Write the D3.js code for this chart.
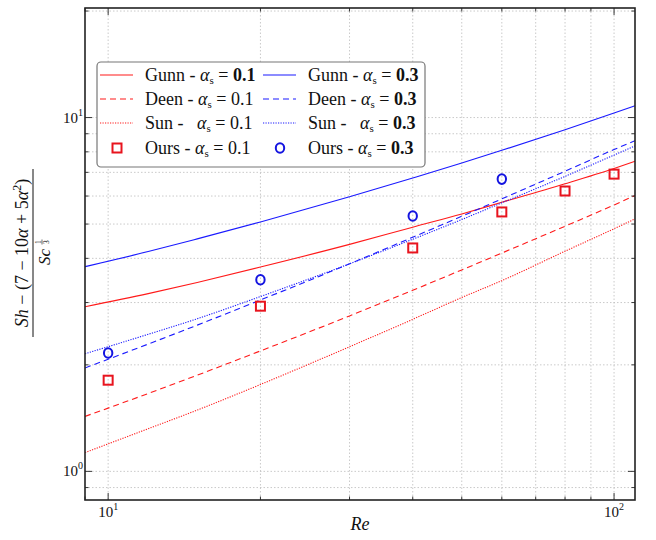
<!DOCTYPE html>
<html>
<head>
<meta charset="utf-8">
<script src="https://cdn.jsdelivr.net/npm/d3@7"></script>
<style>
  html, body { margin: 0; padding: 0; background: #fff; }
  svg { display: block; }
  text { font-family: "Liberation Serif", "DejaVu Serif", serif; fill: #111; }
</style>
</head>
<body>
<svg id="chart" width="656" height="540"></svg>
<script>
// ---------------- data ----------------
const reGrid = [9, 12, 15, 20, 30, 40, 50, 60, 80, 100, 110];
const gunn01 = [2.92, 3.18, 3.42, 3.78, 4.38, 4.90, 5.34, 5.76, 6.50, 7.18, 7.52];
const gunn03 = [3.79, 4.18, 4.54, 5.07, 5.97, 6.75, 7.44, 8.08, 9.24, 10.3, 10.8];
const deen01 = [1.43, 1.66, 1.87, 2.19, 2.75, 3.25, 3.71, 4.14, 4.93, 5.66, 6.02];
const deen03 = [1.96, 2.29, 2.59, 3.05, 3.86, 4.59, 5.26, 5.89, 7.05, 8.12, 8.60];
const sun01  = [1.13, 1.32, 1.49, 1.76, 2.25, 2.69, 3.10, 3.46, 4.19, 4.85, 5.17];
const sun03  = [2.15, 2.44, 2.70, 3.12, 3.86, 4.53, 5.15, 5.74, 6.82, 7.83, 8.31];
const oursRe01 = [10, 20, 40, 60, 80, 100];
const ours01   = [1.81, 2.93, 4.28, 5.41, 6.20, 6.92];
const oursRe03 = [10, 20, 40, 60];
const ours03   = [2.16, 3.48, 5.27, 6.70];
const xMajorTicks = [10, 100];
const xTickExp = ["1", "2"];
const yMajorTicks = [1, 10];
const yTickExp = ["0", "1"];
const legendLabels = [
  ["Gunn - ", "0.1", true], ["Gunn - ", "0.3", true],
  ["Deen - ", "0.1", false], ["Deen - ", "0.3", true],
  ["Sun -   ", "0.1", false], ["Sun -   ", "0.3", true],
  ["Ours - ", "0.1", false], ["Ours - ", "0.3", true]
];

// ---------------- layout ----------------
const L = 85, R = 635, T = 8, B = 500;
const RED = "#ff1a1a", BLUE = "#1a1aff";
const svg = d3.select("#chart");
svg.append("rect").attr("width", 656).attr("height", 540).attr("fill", "#fff");

const x = d3.scaleLog().domain([9, 110]).range([L, R]);
const y = d3.scaleLog().domain([0.83, 20.4]).range([B, T]);

// grid
const xGrid = d3.range(1, 11).map(d => d * 10).concat([9]);
const yGrid = [0.9, 1, 2, 3, 4, 5, 6, 7, 8, 9, 10, 20];
const grid = svg.append("g").attr("stroke", "#bdbdbd").attr("stroke-width", 0.8)
  .attr("stroke-dasharray", "1.5,2");
grid.selectAll("line.vx").data(xGrid.filter(v => x(v) > L + 1 && x(v) < R - 1)).join("line")
  .attr("x1", d => x(d)).attr("x2", d => x(d)).attr("y1", T).attr("y2", B);
grid.selectAll("line.hy").data(yGrid.filter(v => y(v) > T + 1 && y(v) < B - 1)).join("line")
  .attr("y1", d => y(d)).attr("y2", d => y(d)).attr("x1", L).attr("x2", R);

// lines
svg.append("clipPath").attr("id", "clip").append("rect")
  .attr("x", L).attr("y", T).attr("width", R - L).attr("height", B - T);
const plot = svg.append("g").attr("clip-path", "url(#clip)");
const lineGen = d3.line().x(d => x(d[0])).y(d => y(d[1])).curve(d3.curveMonotoneX);
const series = [
  { v: gunn01, c: RED, dash: null },
  { v: gunn03, c: BLUE, dash: null },
  { v: deen01, c: RED, dash: "6,4" },
  { v: deen03, c: BLUE, dash: "6,4" },
  { v: sun01, c: RED, dash: "1.2,1.3" },
  { v: sun03, c: BLUE, dash: "1.2,1.3" }
];
series.forEach(s => {
  plot.append("path")
    .attr("d", lineGen(reGrid.map((r, i) => [r, s.v[i]])))
    .attr("fill", "none").attr("stroke", s.c).attr("stroke-width", 1.1)
    .attr("stroke-dasharray", s.dash);
});

// markers
const sq = 9;
plot.selectAll("rect.sq").data(oursRe01.map((r, i) => [r, ours01[i]])).join("rect")
  .attr("x", d => x(d[0]) - sq / 2).attr("y", d => y(d[1]) - sq / 2)
  .attr("width", sq).attr("height", sq)
  .attr("fill", "none").attr("stroke", "#e8141e").attr("stroke-width", 2);
plot.selectAll("ellipse.ci").data(oursRe03.map((r, i) => [r, ours03[i]])).join("ellipse")
  .attr("cx", d => x(d[0])).attr("cy", d => y(d[1]))
  .attr("rx", 4.2).attr("ry", 4.8)
  .attr("fill", "none").attr("stroke", "#1414e0").attr("stroke-width", 2);

// ticks (inward, all sides)
const tk = svg.append("g").attr("stroke", "#222").attr("stroke-width", 0.9);
const xMinor = xGrid.filter(v => xMajorTicks.indexOf(v) < 0);
const yMinor = yGrid.filter(v => yMajorTicks.indexOf(v) < 0);
function xt(vals, len) {
  vals.forEach(v => {
    const px = x(v);
    if (px < L || px > R) return;
    tk.append("line").attr("x1", px).attr("x2", px).attr("y1", B).attr("y2", B - len);
    tk.append("line").attr("x1", px).attr("x2", px).attr("y1", T).attr("y2", T + len);
  });
}
function yt(vals, len) {
  vals.forEach(v => {
    const py = y(v);
    if (py < T || py > B) return;
    tk.append("line").attr("y1", py).attr("y2", py).attr("x1", L).attr("x2", L + len);
    tk.append("line").attr("y1", py).attr("y2", py).attr("x1", R).attr("x2", R - len);
  });
}
xt(xMajorTicks, 7); xt(xMinor, 3.5);
yt(yMajorTicks, 7); yt(yMinor, 3.5);

// frame
svg.append("rect").attr("x", L).attr("y", T).attr("width", R - L).attr("height", B - T)
  .attr("fill", "none").attr("stroke", "#222").attr("stroke-width", 1.6);

// tick labels
xMajorTicks.forEach((v, i) => {
  const t = svg.append("text").attr("x", x(v)).attr("y", 517).attr("text-anchor", "middle")
    .attr("font-size", 15);
  t.append("tspan").text("10");
  t.append("tspan").attr("dy", -7).attr("font-size", 10).text(xTickExp[i]);
});
yMajorTicks.forEach((v, i) => {
  const t = svg.append("text").attr("x", 83).attr("y", y(v) + 5).attr("text-anchor", "end")
    .attr("font-size", 15);
  t.append("tspan").text("10");
  t.append("tspan").attr("dy", -7).attr("font-size", 10).text(yTickExp[i]);
});

// axis labels
svg.append("text").attr("x", (L + R) / 2).attr("y", 530).attr("text-anchor", "middle")
  .attr("font-size", 18).attr("font-style", "italic").text("Re");

const yl = svg.append("g").attr("transform", "translate(33,253) rotate(-90)");
const num = yl.append("text").attr("x", 0).attr("y", -5).attr("text-anchor", "middle")
  .attr("font-size", 18);
num.append("tspan").attr("font-style", "italic").text("Sh");
num.append("tspan").text(" − (7 − 10");
num.append("tspan").attr("font-style", "italic").text("α");
num.append("tspan").text(" + 5");
num.append("tspan").attr("font-style", "italic").text("α");
num.append("tspan").attr("dy", -7).attr("font-size", 12).text("2");
num.append("tspan").attr("dy", 7).text(")");
yl.append("line").attr("x1", -84).attr("x2", 84).attr("y1", 0).attr("y2", 0)
  .attr("stroke", "#111").attr("stroke-width", 1);
yl.append("text").attr("x", -4).attr("y", 17).attr("text-anchor", "middle")
  .attr("font-size", 17).attr("font-style", "italic").text("Sc");
yl.append("text").attr("x", 11).attr("y", 7.5).attr("text-anchor", "middle")
  .attr("font-size", 7.5).text("1");
yl.append("line").attr("x1", 8.5).attr("x2", 13.5).attr("y1", 9).attr("y2", 9)
  .attr("stroke", "#111").attr("stroke-width", 0.6);
yl.append("text").attr("x", 11).attr("y", 15.5).attr("text-anchor", "middle")
  .attr("font-size", 7.5).text("3");

// legend
const lg = svg.append("g");
lg.append("rect").attr("x", 97).attr("y", 62).attr("width", 328).attr("height", 105)
  .attr("rx", 4).attr("fill", "#fff").attr("stroke", "#777").attr("stroke-width", 1.2);
const rowsY = [75, 99, 123, 148];
const colX = [100, 263];
const textX = [145, 308];
const styles = [null, "6,4", "1.2,1.3"];
legendLabels.forEach((lab, i) => {
  const row = Math.floor(i / 2), col = i % 2;
  const c = col === 0 ? RED : BLUE;
  const yy = rowsY[row];
  if (row < 3) {
    lg.append("line").attr("x1", colX[col]).attr("x2", colX[col] + 33)
      .attr("y1", yy).attr("y2", yy).attr("stroke", c).attr("stroke-width", 1.1)
      .attr("stroke-dasharray", styles[row]);
  } else if (col === 0) {
    lg.append("rect").attr("x", colX[col] + 17 - 4.5).attr("y", yy - 4.5)
      .attr("width", sq).attr("height", sq).attr("fill", "none")
      .attr("stroke", "#e8141e").attr("stroke-width", 2);
  } else {
    lg.append("ellipse").attr("cx", colX[col] + 17).attr("cy", yy)
      .attr("rx", 4.2).attr("ry", 4.8).attr("fill", "none")
      .attr("stroke", "#1414e0").attr("stroke-width", 2);
  }
  const t = lg.append("text").attr("x", textX[col]).attr("y", yy + 6)
    .attr("font-size", 18).attr("xml:space", "preserve").style("white-space", "pre");
  t.append("tspan").text(lab[0]);
  t.append("tspan").attr("font-style", "italic").text("α");
  t.append("tspan").attr("dy", 3).attr("font-size", 11).text("s");
  t.append("tspan").attr("dy", -3).text(" = ");
  t.append("tspan").attr("font-weight", lab[2] ? "bold" : "normal").text(lab[1]);
});
</script>
</body>
</html>
